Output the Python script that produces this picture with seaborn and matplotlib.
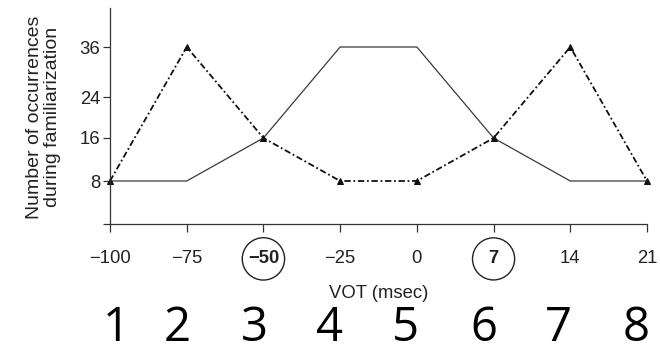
import numpy as np
import matplotlib
matplotlib.use("Agg")
import matplotlib.pyplot as plt
import seaborn as sns

# Data
positions = [1, 2, 3, 4, 5, 6, 7, 8]
vot_labels = ["\u2212100", "\u221275", "\u221250", "\u221225", "0", "7", "14", "21"]
unimodal = [8, 8, 16, 36, 36, 16, 8, 8]
bimodal = [8, 36, 16, 8, 8, 16, 36, 8]
y_ticks = [0, 8, 16, 24, 36]
y_ticklabels = ["", "8", "16", "24", "36"]
step_numbers = ["1", "2", "3", "4", "5", "6", "7", "8"]

sns.set_style("ticks")
plt.rcParams["font.family"] = ["Liberation Sans", "DejaVu Sans"]

# the y axis of the original is not linear, so map values to screen height
y_vals = [0, 8, 16, 24, 36, 45]
y_pix = [0, 43, 86, 127, 177, 216]


def fwd(v):
    return np.interp(v, y_vals, y_pix)


def inv(p):
    return np.interp(p, y_pix, y_vals)


fig = plt.figure(figsize=(6.6, 3.53), dpi=100)
ax = fig.add_axes([110 / 660, 1 - 224 / 353, (647 - 110) / 660, (224 - 8) / 353])
ax.set_yscale("function", functions=(fwd, inv))

sns.lineplot(x=positions, y=unimodal, color="#3a3a3a", linewidth=0.9, ax=ax)
sns.lineplot(x=positions, y=bimodal, color="#111111", linewidth=1.3,
             linestyle=(0, (3.5, 1.5, 1, 1.5)), marker="^", markersize=4,
             markeredgecolor="#111111", ax=ax)
for ln in ax.lines:
    ln.set_clip_on(False)

fs = 13.3
ax.set_xlim(1, 8)
ax.set_ylim(0, 45)
ax.set_xticks(positions)
ax.set_xticklabels(vot_labels, fontsize=fs, color="#222222")
ax.set_yticks(y_ticks)
ax.set_yticklabels(y_ticklabels, fontsize=fs, color="#222222")
ax.tick_params(axis="x", length=6, width=0.9, color="#333333", pad=13)
ax.tick_params(axis="y", length=5, width=0.9, color="#333333", pad=2)
for s in ["top", "right"]:
    ax.spines[s].set_visible(False)
for s in ["left", "bottom"]:
    ax.spines[s].set_linewidth(0.9)
    ax.spines[s].set_color("#333333")

# circled, bold labels
for i, pad in [(2, 0.3), (5, 0.68)]:
    lab = ax.get_xticklabels()[i]
    lab.set_fontweight("bold")
    lab.set_bbox(dict(boxstyle=f"circle,pad={pad}", fc="none", ec="#222222", lw=1))

ax.set_xlabel("VOT (msec)", fontsize=fs, color="#222222", labelpad=13)
ax.set_ylabel("Number of occurrences\nduring familiarization", fontsize=14,
              color="#222222", linespacing=1.05)
ax.yaxis.set_label_coords(-0.092, 0.495)

# big step numbers under the axis
offsets = [0.08, -0.12, -0.12, -0.14, -0.15, -0.13, -0.16, -0.14]
for p, txt, off in zip(positions, step_numbers, offsets):
    ax.text(p + off, -0.542, txt, transform=ax.get_xaxis_transform(),
            ha="center", va="baseline", fontsize=34, family=["Open Sans", "DejaVu Sans"],
            color="black", clip_on=False)

fig.savefig("out.png", dpi=100)
